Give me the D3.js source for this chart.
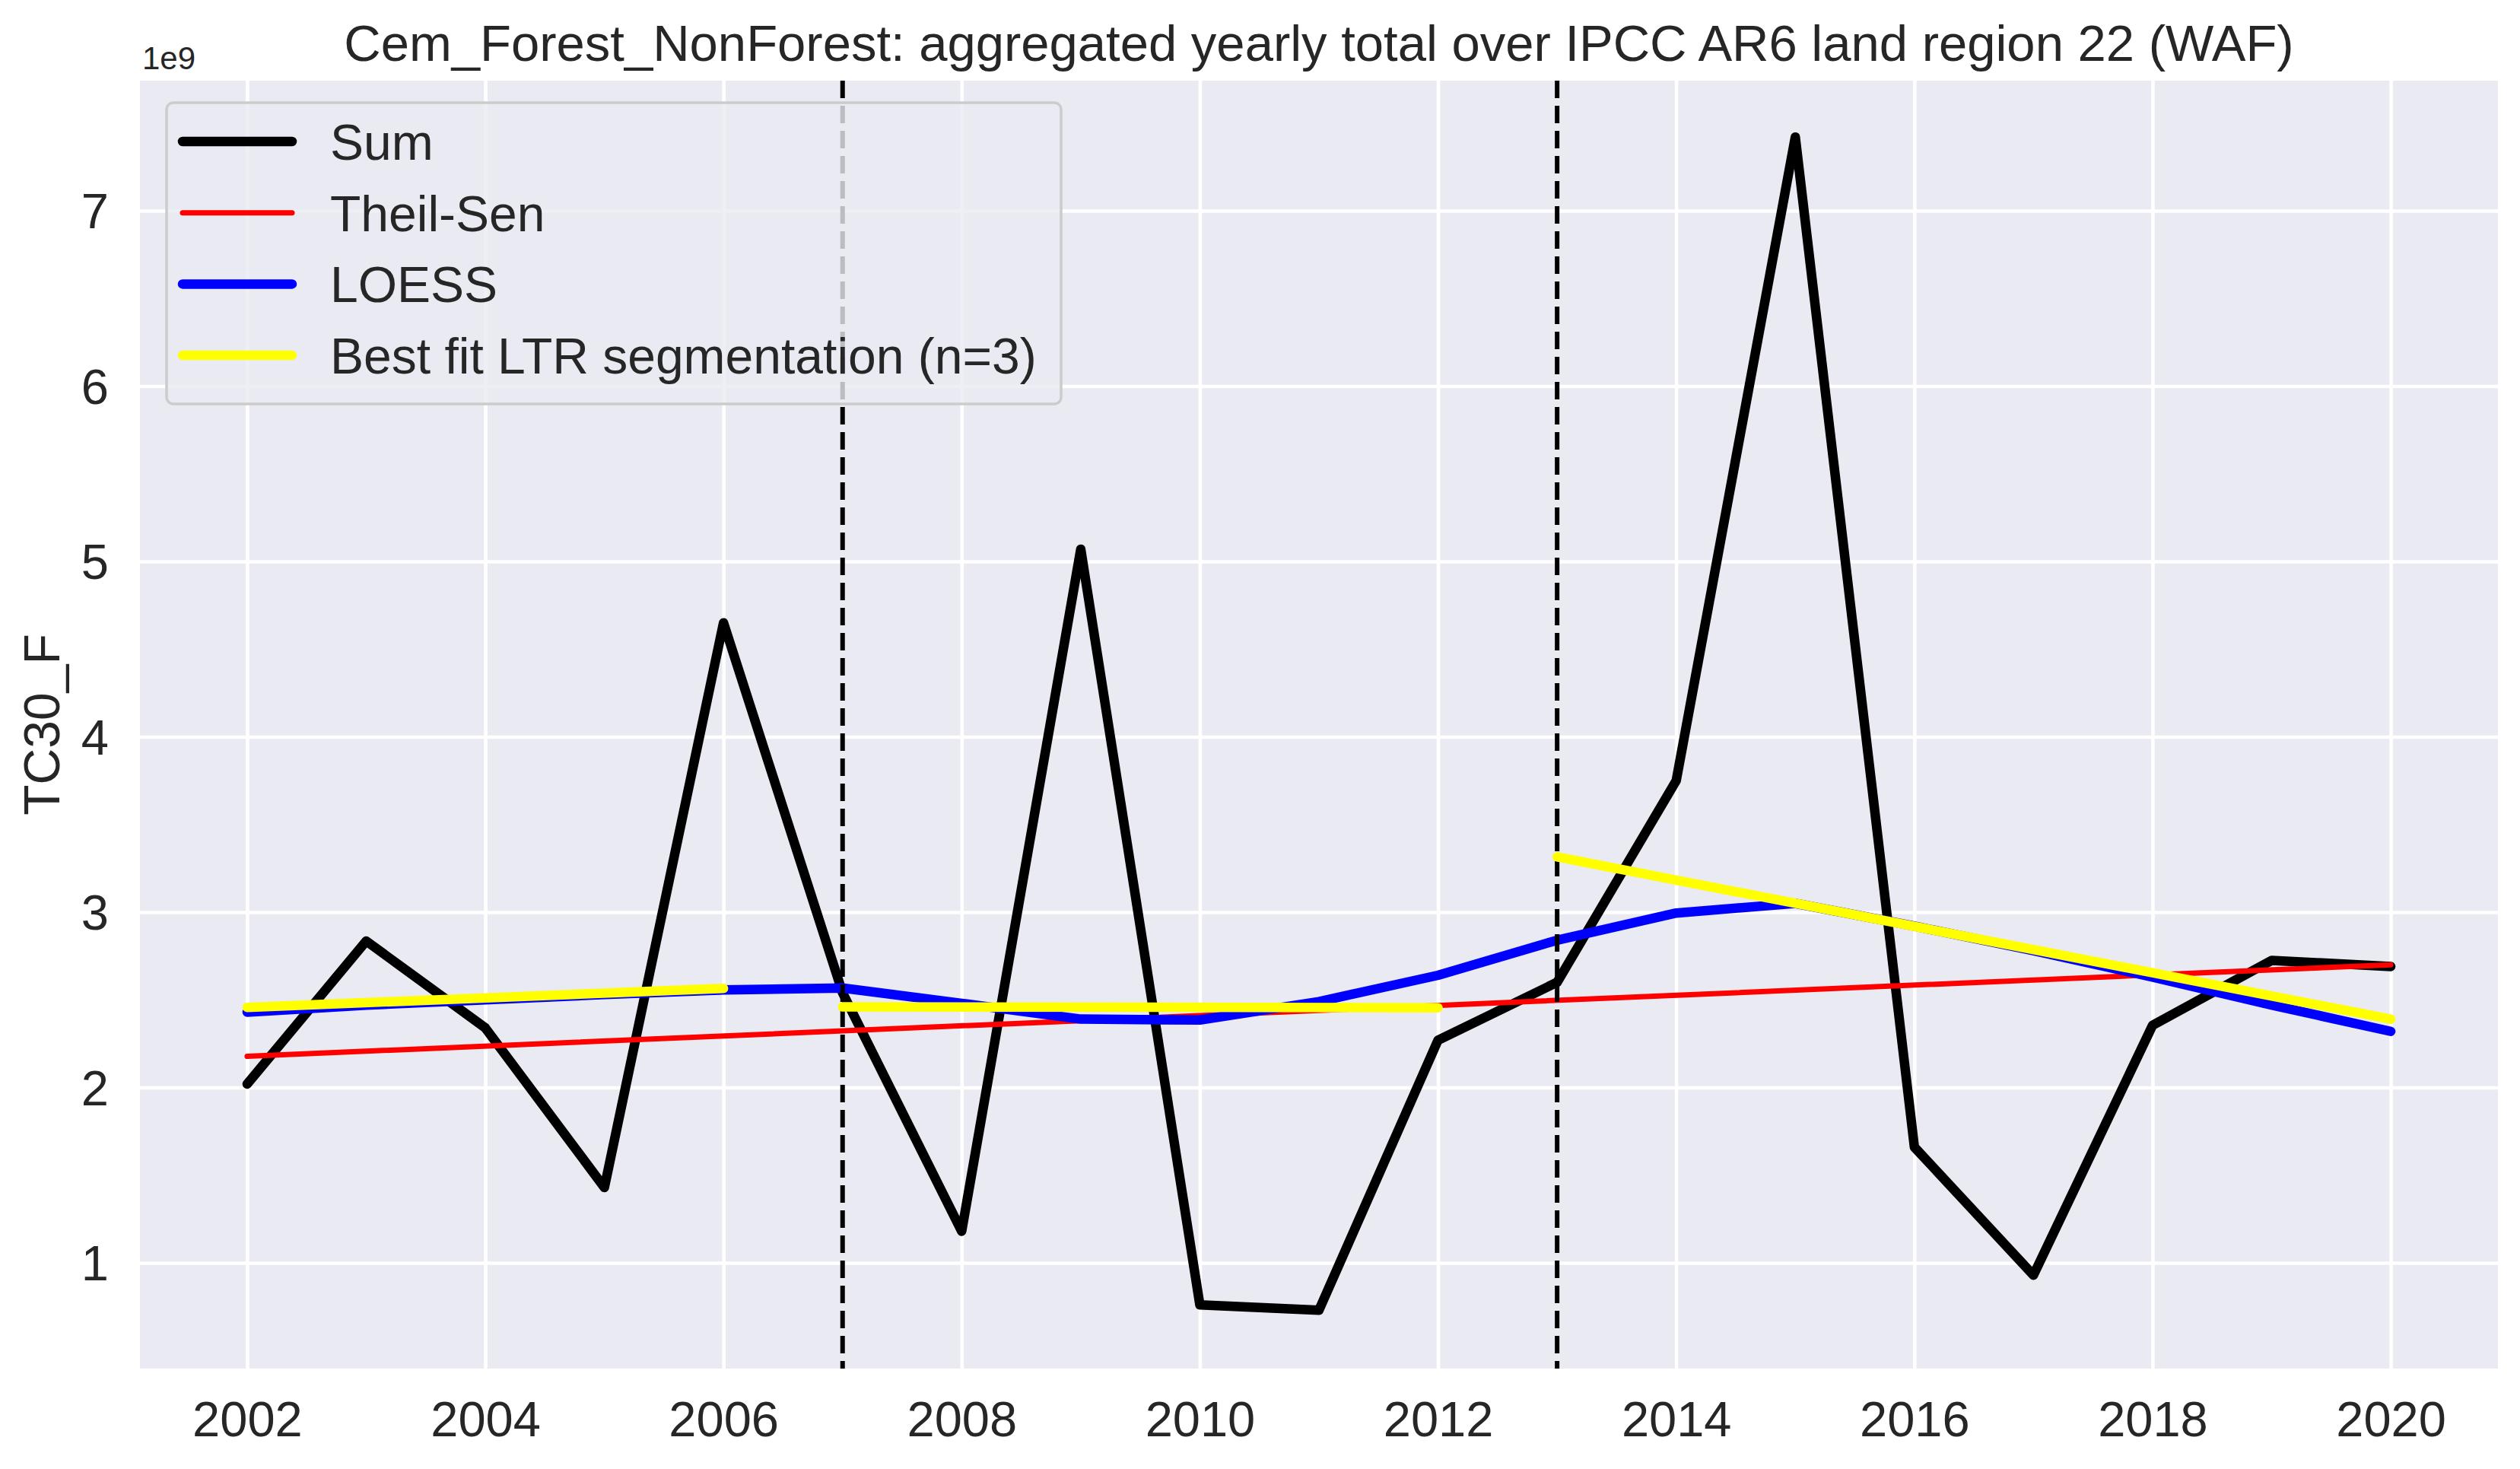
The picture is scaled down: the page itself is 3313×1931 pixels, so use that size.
<!DOCTYPE html>
<html>
<head>
<meta charset="utf-8">
<script src="https://cdn.jsdelivr.net/npm/d3@7"></script>
<style>
  body { margin: 0; background: #ffffff; }
  svg { display: block; font-family: "Liberation Sans", Arial, sans-serif; }
</style>
</head>
<body>
<svg id="chart" width="3313" height="1931"></svg>
<script>
// values are in units of 1e9
const years = [2002, 2003, 2004, 2005, 2006, 2007, 2008, 2009, 2010, 2011,
  2012, 2013, 2014, 2015, 2016, 2017, 2018, 2019, 2020];
const sum_values = [2.02, 2.835, 2.34, 1.43, 4.65, 2.54, 1.18, 5.07, 0.76, 0.73,
  2.27, 2.60, 3.75, 7.42, 1.66, 0.93, 2.355, 2.725, 2.69];
const loess_values = [2.43, 2.47, 2.50, 2.53, 2.556, 2.567, 2.48, 2.39, 2.385, 2.49,
  2.64, 2.84, 2.995, 3.05, 2.92, 2.78, 2.63, 2.47, 2.32];
// Theil-Sen is a straight line, so its two ends are enough
const theil_sen_years = [2002, 2020];
const theil_sen_values = [2.178, 2.70];
// LTR segments: start year, end year, start value, end value
const ltr_start_years = [2002, 2007, 2013];
const ltr_end_years = [2006, 2012, 2020];
const ltr_start_values = [2.457, 2.46, 3.315];
const ltr_end_values = [2.565, 2.455, 2.39];
const breakpoint_years = [2007, 2013];
const x_tick_values = [2002, 2004, 2006, 2008, 2010, 2012, 2014, 2016, 2018, 2020];
const y_tick_values = [1, 2, 3, 4, 5, 6, 7];
const legend_labels = ["Sum", "Theil-Sen", "LOESS", "Best fit LTR segmentation (n=3)"];

const text_color = "#262626";
const plot = { left: 184, right: 3284, top: 106, bottom: 1799 };

const svg = d3.select("#chart");

const x_scale = d3.scaleLinear().domain([2001.1, 2020.9]).range([plot.left, plot.right]);
const y_scale = d3.scaleLinear().domain([0.397, 7.742]).range([plot.bottom, plot.top]);

svg.append("rect")
  .attr("x", plot.left)
  .attr("y", plot.top)
  .attr("width", plot.right - plot.left)
  .attr("height", plot.bottom - plot.top)
  .attr("fill", "#eaeaf2");

// gridlines
const x_gridlines = d3.axisBottom(x_scale)
  .tickValues(x_tick_values)
  .tickSize(-(plot.bottom - plot.top))
  .tickFormat("");
const y_gridlines = d3.axisLeft(y_scale)
  .tickValues(y_tick_values)
  .tickSize(-(plot.right - plot.left))
  .tickFormat("");
svg.append("g")
  .attr("transform", `translate(0,${plot.bottom})`)
  .call(x_gridlines)
  .call((g) => g.select(".domain").remove())
  .call((g) => g.selectAll("line").attr("stroke", "#ffffff").attr("stroke-width", 4.6));
svg.append("g")
  .attr("transform", `translate(${plot.left},0)`)
  .call(y_gridlines)
  .call((g) => g.select(".domain").remove())
  .call((g) => g.selectAll("line").attr("stroke", "#ffffff").attr("stroke-width", 4.6));

// tick labels
const x_axis = d3.axisBottom(x_scale).tickValues(x_tick_values).tickSize(0).tickPadding(0).tickFormat(d3.format("d"));
svg.append("g")
  .attr("transform", `translate(0,${plot.bottom})`)
  .call(x_axis)
  .call((g) => g.select(".domain").remove())
  .call((g) => g.selectAll("text")
    .attr("y", 89)
    .attr("dy", null)
    .attr("fill", text_color)
    .style("font-size", "65px")
    .style("font-family", "Liberation Sans, Arial, sans-serif"));

const y_axis = d3.axisLeft(y_scale).tickValues(y_tick_values).tickSize(0).tickPadding(0).tickFormat(d3.format("d"));
svg.append("g")
  .attr("transform", `translate(${plot.left},0)`)
  .call(y_axis)
  .call((g) => g.select(".domain").remove())
  .call((g) => g.selectAll("text")
    .attr("x", 143 - plot.left)
    .attr("dy", "0.35em")
    .attr("fill", text_color)
    .style("font-size", "65px")
    .style("font-family", "Liberation Sans, Arial, sans-serif"));

const plot_area = svg.append("g");

const line_generator = d3.line()
  .x((d) => x_scale(d[0]))
  .y((d) => y_scale(d[1]));

const sum_points = years.map((year, i) => [year, sum_values[i]]);
const loess_points = years.map((year, i) => [year, loess_values[i]]);
const theil_sen_points = theil_sen_years.map((year, i) => [year, theil_sen_values[i]]);

plot_area.append("path")
  .attr("d", line_generator(sum_points))
  .attr("fill", "none")
  .attr("stroke", "#000000")
  .attr("stroke-width", 12.5)
  .attr("stroke-linejoin", "round")
  .attr("stroke-linecap", "round");

plot_area.append("path")
  .attr("d", line_generator(theil_sen_points))
  .attr("fill", "none")
  .attr("stroke", "#ff0000")
  .attr("stroke-width", 7)
  .attr("stroke-linecap", "round");

plot_area.append("path")
  .attr("d", line_generator(loess_points))
  .attr("fill", "none")
  .attr("stroke", "#0000ff")
  .attr("stroke-width", 12.5)
  .attr("stroke-linejoin", "round")
  .attr("stroke-linecap", "round");

plot_area.selectAll(".breakpoint")
  .data(breakpoint_years)
  .join("line")
  .attr("class", "breakpoint")
  .attr("x1", (d) => x_scale(d))
  .attr("x2", (d) => x_scale(d))
  .attr("y1", plot.top)
  .attr("y2", plot.bottom)
  .attr("stroke", "#000000")
  .attr("stroke-width", 6)
  .attr("stroke-dasharray", "23 10");

plot_area.selectAll(".ltr")
  .data(ltr_start_years.map((year, i) => [[year, ltr_start_values[i]], [ltr_end_years[i], ltr_end_values[i]]]))
  .join("path")
  .attr("class", "ltr")
  .attr("d", (d) => line_generator(d))
  .attr("fill", "none")
  .attr("stroke", "#ffff00")
  .attr("stroke-width", 12.5)
  .attr("stroke-linecap", "round");

// legend
const legend_colors = ["#000000", "#ff0000", "#0000ff", "#ffff00"];
const legend_widths = [12.5, 7, 12.5, 12.5];
const legend = svg.append("g");
legend.append("rect")
  .attr("x", 219)
  .attr("y", 135)
  .attr("width", 1395 - 219)
  .attr("height", 531 - 135)
  .attr("rx", 9)
  .attr("fill", "#eaeaf2")
  .attr("fill-opacity", 0.8)
  .attr("stroke", "#cccccc")
  .attr("stroke-width", 3.5);
const legend_rows = legend.selectAll(".legend-row")
  .data(legend_labels)
  .join("g")
  .attr("class", "legend-row")
  .attr("transform", (d, i) => `translate(0,${186 + i * 93.7})`);
legend_rows.append("line")
  .attr("x1", 240)
  .attr("x2", 384)
  .attr("stroke", (d, i) => legend_colors[i])
  .attr("stroke-width", (d, i) => legend_widths[i])
  .attr("stroke-linecap", "round");
legend_rows.append("text")
  .attr("x", 434)
  .attr("y", 24)
  .attr("fill", text_color)
  .style("font-size", "66px")
  .text((d) => d);

// title, axis label, offset text
svg.append("text")
  .attr("x", (plot.left + plot.right) / 2)
  .attr("y", 80)
  .attr("text-anchor", "middle")
  .attr("fill", text_color)
  .style("font-size", "67px")
  .text("Cem_Forest_NonForest: aggregated yearly total over IPCC AR6 land region 22 (WAF)");

svg.append("text")
  .attr("transform", `translate(78,${(plot.top + plot.bottom) / 2}) rotate(-90)`)
  .attr("text-anchor", "middle")
  .attr("fill", text_color)
  .style("font-size", "66px")
  .text("TC30_F");

svg.append("text")
  .attr("x", 187)
  .attr("y", 91)
  .attr("fill", text_color)
  .style("font-size", "42px")
  .text("1e9");
</script>
</body>
</html>
